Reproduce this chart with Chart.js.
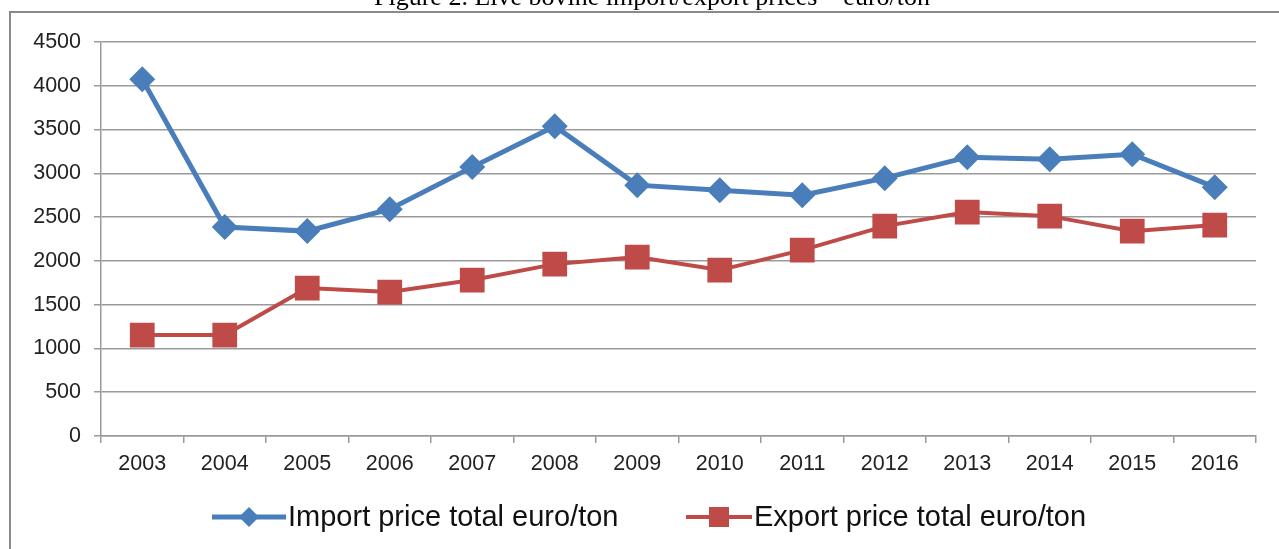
<!DOCTYPE html>
<html>
<head>
<meta charset="utf-8">
<script src="https://cdn.jsdelivr.net/npm/chart.js@4.4.1/dist/chart.umd.min.js"></script>
<style>
html,body{margin:0;padding:0;background:#fff;overflow:hidden;}
canvas{display:block;}
</style>
</head>
<body>
<canvas id="c" width="1279" height="549"></canvas>
<script>
const titleText = "Figure 2. Live bovine import/export prices \u2013 euro/ton";
const years = ["2003","2004","2005","2006","2007","2008","2009","2010","2011","2012","2013","2014","2015","2016"];
const importPrices = [4075, 2386, 2340, 2591, 3071, 3539, 2865, 2808, 2751, 2945, 3185, 3162, 3219, 2842];
const exportPrices = [1153, 1153, 1689, 1644, 1781, 1963, 2043, 1895, 2123, 2397, 2557, 2511, 2340, 2409];
const importLabel = "Import price total euro/ton";
const exportLabel = "Export price total euro/ton";
const yMin = 0, yMax = 4500, yStep = 500;

const BLUE = "#4a7ebb";
const RED = "#be4b48";
const GRID = "#9a9a9a";
const TICKFONT = {family: "'Liberation Sans', Arial, sans-serif", size: 21.5};

const decor = {
  id: "decor",
  beforeDraw(chart) {
    const ctx = chart.ctx;
    ctx.save();
    ctx.fillStyle = "#fff";
    ctx.fillRect(0, 0, chart.width, chart.height);
    ctx.fillStyle = "#000";
    ctx.font = "26px 'Liberation Serif', 'Times New Roman', serif";
    ctx.textAlign = "center";
    ctx.textBaseline = "alphabetic";
    ctx.fillText(titleText, 652, 5);
    ctx.strokeStyle = "#8a8a8a";
    ctx.lineWidth = 2;
    ctx.beginPath();
    ctx.moveTo(10, chart.height);
    ctx.lineTo(10, 12);
    ctx.lineTo(chart.width, 12);
    ctx.stroke();
    ctx.restore();
  },
  afterDraw(chart) {
    const ctx = chart.ctx;
    ctx.save();
    const y = 517;
    const items = [
      {ds: 0, x0: 212, x1: 286, label: importLabel},
      {ds: 1, x0: 686, x1: 752, label: exportLabel}
    ];
    items.forEach(it => {
      const ds = chart.data.datasets[it.ds];
      ctx.strokeStyle = ds.borderColor;
      ctx.lineWidth = ds.borderWidth;
      ctx.beginPath();
      ctx.moveTo(it.x0, y);
      ctx.lineTo(it.x1, y);
      ctx.stroke();
      ctx.fillStyle = ds.backgroundColor;
      ctx.beginPath();
      const cx = (it.x0 + it.x1) / 2;
      if (it.ds === 0) {
        const r = 10;
        ctx.moveTo(cx - r, y); ctx.lineTo(cx, y - r); ctx.lineTo(cx + r, y); ctx.lineTo(cx, y + r);
      } else {
        const s = 10;
        ctx.rect(cx - s, y - s, 2 * s, 2 * s);
      }
      ctx.closePath();
      ctx.fill();
      ctx.fillStyle = "#111";
      ctx.font = "29px 'Liberation Sans', Arial, sans-serif";
      ctx.textAlign = "left";
      ctx.textBaseline = "middle";
      ctx.fillText(it.label, it.x1 + 2, y + 1);
    });
    ctx.restore();
  }
};

new Chart(document.getElementById("c"), {
  type: "line",
  data: {
    labels: years,
    datasets: [
      {
        label: importLabel,
        data: importPrices,
        borderColor: BLUE,
        backgroundColor: BLUE,
        borderWidth: 5,
        pointStyle: "rectRot",
        pointRadius: 13,
        pointHoverRadius: 13,
        pointBorderWidth: 0,
        tension: 0
      },
      {
        label: exportLabel,
        data: exportPrices,
        borderColor: RED,
        backgroundColor: RED,
        borderWidth: 4,
        pointStyle: "rect",
        pointRadius: 17.5,
        pointHoverRadius: 17.5,
        pointBorderWidth: 0,
        tension: 0
      }
    ]
  },
  options: {
    responsive: false,
    animation: false,
    devicePixelRatio: 1,
    layout: {padding: {left: 0, right: 23, top: 42, bottom: 63}},
    plugins: {
      legend: {display: false},
      title: {display: false},
      tooltip: {enabled: false}
    },
    scales: {
      x: {
        offset: true,
        grid: {offset: true, drawOnChartArea: false, drawTicks: true, tickLength: 7, color: GRID, lineWidth: 1.5},
        border: {display: true, color: GRID, width: 1.5},
        ticks: {color: "#222", font: TICKFONT, padding: 8, maxRotation: 0, autoSkip: false},
        afterFit(s) { s.height = 50; }
      },
      y: {
        min: yMin,
        max: yMax,
        grid: {color: GRID, lineWidth: 1.5, drawTicks: true, tickLength: 7},
        border: {display: true, color: GRID, width: 1.5},
        ticks: {stepSize: yStep, color: "#222", font: TICKFONT, padding: 13, callback: v => String(v)},
        afterFit(s) { s.width = 101; }
      }
    }
  },
  plugins: [decor]
});
</script>
</body>
</html>
